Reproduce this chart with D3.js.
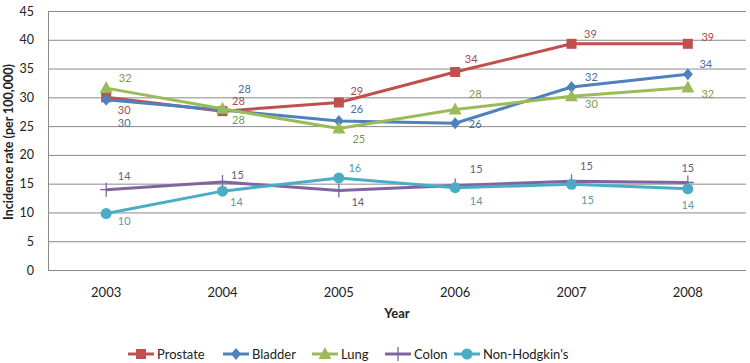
<!DOCTYPE html>
<html><head><meta charset="utf-8">
<script src="https://cdn.jsdelivr.net/npm/d3@7"></script>
<style>body{margin:0;background:#fff}svg{display:block}text{font-family:Lato,"Open Sans",sans-serif}</style>
</head><body><svg id="c" width="750" height="363"></svg>
<script>
const years = ["2003","2004","2005","2006","2007","2008"];
const seriesNames = ["Prostate","Bladder","Lung","Colon","Non-Hodgkin's"];
const prostate = [30.0, 27.6, 29.1, 34.4, 39.3, 39.3];
const bladder  = [29.6, 27.8, 25.9, 25.5, 31.8, 34.0];
const lung     = [31.6, 28.0, 24.6, 27.9, 30.2, 31.7];
const colon    = [13.95, 15.3, 13.8, 14.7, 15.4, 15.2];
const nhl      = [9.8, 13.7, 16.0, 14.3, 14.9, 14.1];
const yTicks = [0,5,10,15,20,25,30,35,40,45];

const values = [prostate, bladder, lung, colon, nhl];
const colors = ["#C0504D","#4F81BD","#9BBB59","#8064A2","#4BACC6"];
const labelColors = ["#A0504D","#4A6E9A","#7E9A48","#6A5A80","#5A98AA"];
const markers = ["square","diamond","triangle","plus","circle"];
// label offsets (dx, dy) per series per point
const offs = [
  [[18,13],[16,-10],[18,-12],[16,-13],[19,-10],[20,-7]],
  [[18,23],[22,-21],[18,-12],[20,1],[20,-10],[18,-10]],
  [[19,-10],[16,11],[20,11],[20,-15],[20,8],[20,6]],
  [[18,-14],[15,-7],[19,11],[21,-16],[15,-15],[0,-15]],
  [[18,7],[14,11],[16,-10],[21,13],[16,16],[0,16]]
];

const svg = d3.select("#c");
const L = 48, R = 746, T = 11, B = 270;
const x = d3.scaleBand().domain(years).range([L, R]);
const y = d3.scaleLinear().domain([0,45]).range([B, T]);
const cx = d => x(d) + x.bandwidth()/2;

// grid
svg.append("g").selectAll("line").data(yTicks).join("line")
  .attr("x1", L).attr("x2", R).attr("y1", d=>y(d)+0.5).attr("y2", d=>y(d)+0.5)
  .attr("stroke", "#8a8a8a").attr("stroke-width", 1);
svg.append("line").attr("x1", L+0.5).attr("x2", L+0.5).attr("y1", T).attr("y2", B)
  .attr("stroke", "#8a8a8a");

// y axis labels
svg.append("g").selectAll("text").data(yTicks).join("text")
  .attr("x", 34).attr("y", d=>y(d)+4.5).attr("text-anchor","end")
  .attr("font-size", 12.5).attr("fill","#222").text(d=>d);
// x axis labels
svg.append("g").selectAll("text").data(years).join("text")
  .attr("x", d=>cx(d)).attr("y", 297).attr("text-anchor","middle")
  .attr("font-size", 13).attr("fill","#222").text(d=>d);

svg.append("text").attr("x", (L+R)/2).attr("y", 318).attr("text-anchor","middle")
  .attr("font-size", 13).attr("font-weight","bold").attr("fill","#222").text("Year");
svg.append("text").attr("transform","translate(13,142) rotate(-90)").attr("text-anchor","middle")
  .attr("font-size", 12.5).attr("font-weight","bold").attr("fill","#222").text("Incidence rate (per 100,000)");

function marker(g, type, color){
  if(type==="square") g.append("rect").attr("x",-5).attr("y",-5).attr("width",10).attr("height",10).attr("fill",color);
  else if(type==="diamond") g.append("path").attr("d","M0,-6L5,0L0,6L-5,0Z").attr("fill",color);
  else if(type==="triangle") g.append("path").attr("d","M0,-7L6.5,5L-6.5,5Z").attr("fill",color);
  else if(type==="plus") g.append("path").attr("d","M-6,0H6M0,-7V7").attr("stroke",color).attr("stroke-width",1.3);
  else if(type==="circle") g.append("circle").attr("r",5.5).attr("fill",color);
}

const line = d3.line().x((d,i)=>cx(years[i])).y(d=>y(d));
values.forEach((vals,si)=>{
  const g = svg.append("g");
  g.append("path").attr("d", line(vals)).attr("fill","none")
    .attr("stroke", colors[si]).attr("stroke-width", 3).attr("stroke-linejoin","round");
  vals.forEach((v,i)=>{
    const m = g.append("g").attr("transform",`translate(${cx(years[i])},${y(v)})`);
    marker(m, markers[si], colors[si]);
  });
});
values.forEach((vals,si)=>{
  svg.append("g").selectAll("text").data(vals).join("text")
    .attr("x",(d,i)=>cx(years[i])+offs[si][i][0]).attr("y",(d,i)=>y(d)+offs[si][i][1]+4)
    .attr("text-anchor","middle").attr("font-size",11).attr("fill",labelColors[si])
    .text(d=>Math.round(d));
});

// legend
const legX = [128, 223, 312, 385, 454];
const lg = svg.append("g");
seriesNames.forEach((n,i)=>{
  const g = lg.append("g").attr("transform",`translate(${legX[i]},354)`);
  g.append("line").attr("x1",0).attr("x2",26).attr("y1",0).attr("y2",0).attr("stroke",colors[i]).attr("stroke-width",3);
  const m = g.append("g").attr("transform","translate(13,0)");
  marker(m, markers[i], colors[i]);
  g.append("text").attr("x",29).attr("y",4.5).attr("font-size",13).attr("fill","#222").text(n);
});
</script></body></html>
